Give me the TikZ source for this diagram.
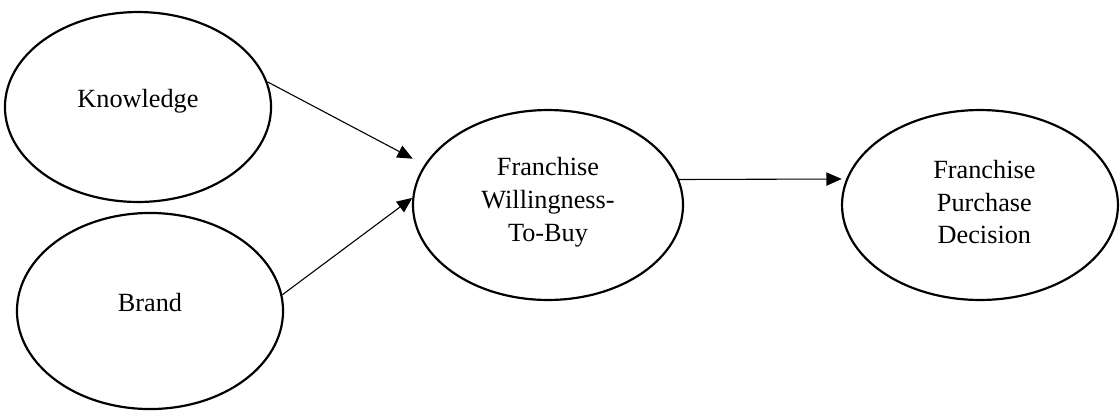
\documentclass[tikz,border=0pt]{standalone}
\usepackage{fontspec}
\setmainfont{Liberation Serif}
\usetikzlibrary{arrows.meta,shapes.geometric,positioning}

\tikzset{
	blob/.style={draw, ellipse, line width=1pt, inner sep=0pt},
	link/.style={line width=0.5pt, -{Triangle[length=7pt,width=6pt]}},
	words/.style={align=center, inner sep=0pt}
}

\begin{document}
\begin{tikzpicture}[x=0.457pt, y=0.457pt, font={\fontsize{12}{15}\selectfont}]
	\useasboundingbox (0,0) rectangle (1120,411);
	% ovals
	\node[blob, minimum width=121.6pt, minimum height=86.8pt] (know) at (138,304) {};
	\node[blob, minimum width=121.6pt, minimum height=89.6pt] (brand) at (150,100) {};
	\node[blob, minimum width=123.4pt, minimum height=86.8pt] (wtb) at (548,206) {};
	\node[blob, minimum width=126.1pt, minimum height=86.8pt] (pd) at (980,206) {};
	% texts
	\node[words, anchor=base] (knowtxt) at (know.center) {Knowledge};
	\node[words, anchor=base] (brandtxt) at (brand.center) {Brand};
	\node[words, yshift=1.3pt] (wtbtxt) at (wtb.center) {Franchise\\Willingness-\\To-Buy};
	\node[words, xshift=2pt, yshift=1.3pt] (pdtxt) at (pd.center) {Franchise\\Purchase\\Decision};
	% arrows
	\draw[link, shorten >=6pt] (know.11) -- (wtb.162);
	\draw[link] (brand.7) -- (wtb.177);
	\draw[link, shorten >=2pt] (wtb.11) -- (pd.169);
\end{tikzpicture}
\end{document}
